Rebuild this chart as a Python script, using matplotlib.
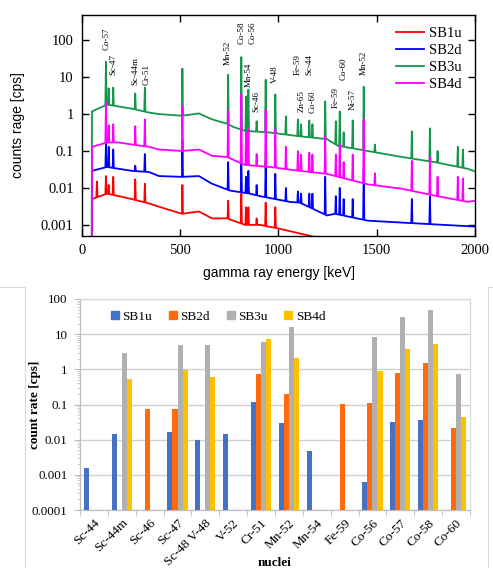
import numpy as np
import matplotlib
matplotlib.use('Agg')
import matplotlib.pyplot as plt
from matplotlib.patches import Patch
from matplotlib.lines import Line2D

plt.rcParams['font.family'] = ['Liberation Serif', 'DejaVu Serif']

# ---- top panel: gamma spectra (continuum knots + peak lines) ----
series = ['SB1u', 'SB2d', 'SB3u', 'SB4d']
line_colors = ['#ff0000', '#0000ff', '#14964b', '#ff00ff']

cont_e = {
    'SB1u': [50, 51, 127, 188, 254, 341, 392, 509, 595, 662, 738, 830, 906, 1000, 1100, 1200, 1300],
    'SB2d': [50, 51, 127, 188, 254, 341, 392, 509, 595, 662, 753, 855, 906, 1058, 1109, 1247, 1288, 1455, 1700, 2000],
    'SB3u': [49, 51, 127, 188, 254, 341, 392, 509, 595, 662, 738, 770, 830, 950, 1109, 1247, 1300, 1455, 1628, 1796, 1964, 2000],
    'SB4d': [50, 51, 127, 188, 254, 341, 392, 509, 595, 662, 738, 830, 957, 1109, 1247, 1455, 1628, 1796, 1964, 2000],
}
cont_v = {
    'SB1u': [1e-4, 0.005, 0.007, 0.006, 0.005, 0.0038, 0.0031, 0.002, 0.0023, 0.0015, 0.0015, 0.001, 0.001, 0.0008, 0.0006, 0.00045, 0.0003],
    'SB2d': [1e-4, 0.029, 0.037, 0.033, 0.029, 0.027, 0.021, 0.02, 0.021, 0.013, 0.0085, 0.007, 0.006, 0.0042, 0.004, 0.0018, 0.002, 0.0013, 0.0011, 0.0009],
    'SB3u': [1e-4, 1.18, 1.8, 1.6, 1.4, 1.1, 1.0, 0.9, 1.04, 0.72, 0.55, 0.45, 0.35, 0.32, 0.25, 0.21, 0.14, 0.1, 0.069, 0.05, 0.033, 0.028],
    'SB4d': [1e-4, 0.13, 0.17, 0.17, 0.15, 0.13, 0.11, 0.1, 0.11, 0.074, 0.069, 0.042, 0.037, 0.029, 0.024, 0.0125, 0.0095, 0.0062, 0.0042, 0.0045],
}

peak_e = [76, 122, 136, 159, 271, 320, 511, 744, 811, 835, 847, 889, 935, 984, 1038, 1099,
          1115, 1157, 1173, 1238, 1292, 1312, 1332, 1378, 1434, 1491, 1679, 1771, 1810, 1913, 1939]
peak_h = {
    'SB1u': [0.015, 0.021, 0.012, 0.02, 0.017, 0.013, 0.012, 0.0045, 0.007, 0.003, 0.003, 0.0015, 0.004, 0.003, 0, 0,
             0, 0, 0, 0, 0, 0, 0, 0, 0, 0, 0, 0, 0, 0, 0],
    'SB2d': [0, 0.16, 0.13, 0.11, 0.04, 0.083, 0.2, 0.05, 0.07, 0.02, 0.029, 0.012, 0.054, 0.024, 0.01, 0.008,
             0.007, 0.007, 0.007, 0.02, 0.006, 0.01, 0.005, 0.005, 0.03, 0, 0.005, 0.006, 0, 0, 0],
    'SB3u': [0, 26, 5.0, 5.2, 3.6, 5.2, 17, 11.6, 35, 3.0, 4.6, 0.64, 8.5, 3.4, 0.87, 0.72,
             0.53, 0.67, 0.53, 2.2, 0.64, 1.17, 0.32, 0.67, 5.5, 0.15, 0.34, 0.41, 0.1, 0.13, 0.11],
    'SB4d': [0, 2.1, 0.5, 0.53, 0.47, 0.72, 1.6, 1.2, 3.5, 0.32, 0.39, 0.083, 1.3, 0.39, 0.13, 0.1,
             0.08, 0.09, 0.08, 0.25, 0.08, 0.15, 0.05, 0.08, 0.72, 0.025, 0.054, 0.069, 0.02, 0.02, 0.018],
}

ann_names = ['Co-57', 'Sc-47', 'Sc-44m', 'Cr-51', 'Mn-52', 'Co-58', 'Co-56', 'Mn-54', 'Sc-46',
             'V-48', 'Zn-65', 'Co-60', 'Fe-59', 'Sc-44', 'Fe-59', 'Co-60', 'Ni-57', 'Mn-52']
ann_e = [124, 159, 271, 330, 744, 811, 868, 850, 889, 984, 1118, 1173, 1099, 1157, 1290, 1332, 1378, 1434]
ann_y = [54, 11.6, 6.2, 6.2, 21, 80, 80, 5.5, 1.17, 7, 1.17, 1.1, 11.6, 11.6, 1.5, 8.5, 1.3, 11.6]

# ---- bottom panel: count rate per nuclide ----
nuclei = ['Sc-44', 'Sc-44m', 'Sc-46', 'Sc-47', 'Sc-48 V-48', 'V-52', 'Cr-51', 'Mn-52',
          'Mn-54', 'Fe-59', 'Co-56', 'Co-57', 'Co-58', 'Co-60']
rate = {
    'SB1u': [0.00145, 0.014, 0, 0.016, 0.0097, 0.014, 0.12, 0.029, 0.0047, 0, 0.00054, 0.031, 0.036, 0],
    'SB2d': [0, 0, 0.073, 0.073, 0, 0, 0.72, 0.195, 0, 0.1, 0.108, 0.77, 1.48, 0.021],
    'SB3u': [0, 3.0, 0, 4.8, 4.8, 0, 5.8, 15.6, 0, 0, 8.1, 30, 50, 0.72],
    'SB4d': [0, 0.52, 0, 0.95, 0.6, 0, 7.1, 2.05, 0, 0, 0.88, 3.9, 5.1, 0.043],
}
bar_colors = ['#4472c4', '#ff6a0d', '#b0b0b0', '#ffc000']


def spectrum(name):
    ke = np.array(cont_e[name], dtype=float)
    kv = np.log10(cont_v[name])
    pts = list(zip(ke, kv))
    for e, h in zip(peak_e, peak_h[name]):
        if h <= 0 or e > ke[-1]:
            continue
        for de in (-3, 3):
            pts.append((e + de, np.interp(e + de, ke, kv)))
        pts.append((e, np.log10(h)))
    pts.sort(key=lambda p: p[0])
    x = np.array([p[0] for p in pts])
    y = 10 ** np.array([p[1] for p in pts])
    return x, y


fig = plt.figure(figsize=(4.93, 5.68), dpi=100)

ax1 = fig.add_axes([0.1663, 0.5845, 0.797, 0.389])
for name, c in zip(series, line_colors):
    x, y = spectrum(name)
    ax1.plot(x, y, color=c, lw=1.3, label=name)
ax1.set_yscale('log')
ax1.set_xlim(0, 2000)
ax1.set_ylim(5e-4, 480)
ax1.set_xticks([0, 500, 1000, 1500, 2000])
ax1.set_yticks([0.001, 0.01, 0.1, 1, 10, 100])
ax1.set_yticklabels(['0.001', '0.01', '0.1', '1', '10', '100'])
ax1.minorticks_off()
ax1.tick_params(direction='in', top=True, right=True, length=5, width=1, labelsize=10.5, pad=6)
for s in ax1.spines.values():
    s.set_linewidth(1.0)

for n, e, yv in zip(ann_names, ann_e, ann_y):
    ax1.text(e, yv, n, rotation=90, ha='center', va='bottom', fontsize=6.5)

handles = [Line2D([], [], color=c, lw=1.3) for c in line_colors]
ax1.legend(handles, series, loc='upper right', bbox_to_anchor=(0.982, 0.973), frameon=False,
           fontsize=10.5, handlelength=1.9, handletextpad=0.4, labelspacing=0.25, borderaxespad=0)

fig.text(0.565, 0.519, 'gamma ray energy [keV]', family='Liberation Sans', fontsize=10,
         ha='center', va='center')
fig.text(0.037, 0.779, 'counts rage [cps]', family='Liberation Sans', fontsize=10,
         ha='center', va='center', rotation=90)

# bottom bars
ax2 = fig.add_axes([0.1623, 0.1021, 0.791, 0.3715])
xi = np.arange(len(nuclei))
bw = 0.18
for k, (name, c) in enumerate(zip(series, bar_colors)):
    vals = np.array(rate[name], dtype=float)
    vals[vals <= 0] = np.nan
    ax2.bar(xi + (k - 1.5) * bw, vals, width=bw, bottom=1e-4, color=c, zorder=3)
ax2.set_yscale('log')
ax2.set_ylim(1e-4, 100)
ax2.set_xlim(-0.5, len(nuclei) - 0.5)
ax2.set_yticks([1e-4, 1e-3, 0.01, 0.1, 1, 10, 100])
ax2.set_yticklabels(['0.0001', '0.001', '0.01', '0.1', '1', '10', '100'])
ax2.yaxis.grid(True, which='major', color='#d0d0d0', lw=1.0, zorder=0)
ax2.set_xticks(xi)
ax2.set_xticklabels(nuclei, rotation=45, ha='right', rotation_mode='anchor', fontsize=9.5)
ax2.set_xticks(np.arange(len(nuclei) + 1) - 0.5, minor=True)
ax2.tick_params(axis='x', which='major', length=0, pad=5)
ax2.tick_params(axis='x', which='minor', length=4, color='#bfbfbf')
ax2.tick_params(axis='y', which='major', length=4, color='#bfbfbf', labelsize=9.3, pad=5)
ax2.tick_params(axis='y', which='minor', length=2.5, color='#c8c8c8')
for sname, s in ax2.spines.items():
    s.set_color('#bfbfbf' if sname in ('left', 'bottom') else '#d9d9d9')
    s.set_linewidth(0.9)

bh = [Patch(color=c) for c in bar_colors]
fig.legend(bh, series, loc='center', bbox_to_anchor=(0.442, 0.442), ncol=4, frameon=False,
           fontsize=9.5, handlelength=0.6, handleheight=0.6, handletextpad=0.25, columnspacing=1.3)

fig.text(35 / 493, 1 - 405 / 568, 'count rate [cps]', fontweight='bold', fontsize=9.5,
         rotation=90, ha='center', va='center')
fig.text(0.556, 0.009, 'nuclei', fontweight='bold', fontsize=9.5, ha='center', va='center')

# light frame of the lower chart area
for xs, ys in [([0, 25], [287, 287]), ([25, 25], [287, 568]), ([488, 488], [287, 568]), ([488, 493], [287, 287])]:
    fig.add_artist(Line2D(np.array(xs) / 493, 1 - np.array(ys) / 568, color='#d9d9d9', lw=0.8))

fig.savefig('out.png', dpi=100)
